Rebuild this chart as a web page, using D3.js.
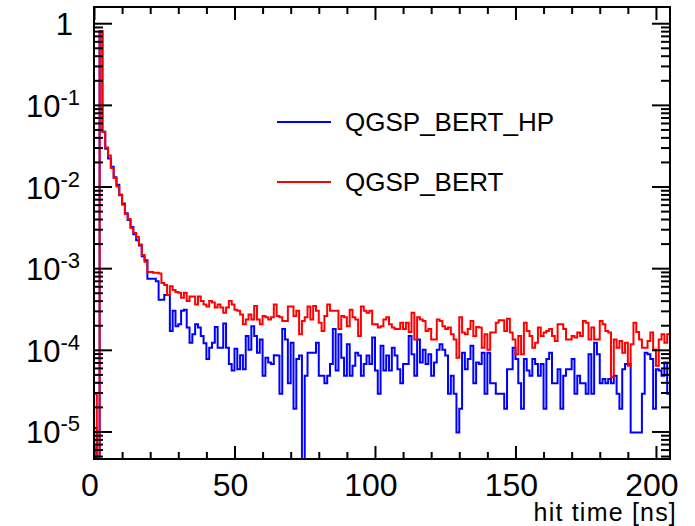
<!DOCTYPE html>
<html>
<head>
<meta charset="utf-8">
<script src="https://cdn.jsdelivr.net/npm/d3@7"></script>
<style>
  body { margin: 0; background: #fff; }
  svg { display: block; font-family: "Liberation Sans", Arial, sans-serif; }
</style>
</head>
<body>
<svg id="chart" width="695" height="526"></svg>
<script>
// hit time histograms, 1 ns bins from 0 to 205 ns
var binWidth = 1;
var seriesNames = ["QGSP_BERT_HP", "QGSP_BERT"];
var seriesColors = ["#0000ff", "#ff0000"];

var hpValues = [
  1.1e-5, 0, 0.8, 0.047, 0.029, 0.022, 0.0175, 0.013, 0.0105, 0.0078,
  0.0062, 0.0047, 0.0039, 0.0032, 0.0026, 0.0022, 0.0019, 1.4e-3, 1.25e-3, 7.4e-4,
  7.4e-4, 7.4e-4, 6.9e-4, 4.1e-4, 4.1e-4, 4.7e-4, 4.7e-4, 1.7e-4, 3.0e-4, 1.95e-4,
  2.05e-4, 3.0e-4, 3.1e-4, 1.87e-4, 1.22e-4, 1.55e-4, 2.05e-4, 1.87e-4, 1.48e-4, 1.2e-4,
  7.7e-5, 1.06e-4, 1.22e-4, 1.9e-4, 1.06e-4, 1.06e-4, 2.1e-4, 1.06e-4, 6.7e-5, 5.6e-5,
  1.03e-4, 5.8e-5, 8.6e-5, 5.8e-5, 1.48e-4, 1.0e-4, 1.95e-4, 1.48e-4, 9.2e-5, 1.34e-4,
  4.8e-5, 8.0e-5, 7.0e-5, 6.7e-5, 8.6e-5, 8.5e-5, 2.9e-5, 1.8e-4, 1.34e-4, 3.9e-5,
  1.22e-4, 1.9e-5, 7.7e-5, 8.5e-5, 0, 4.8e-5, 9.2e-5, 9.2e-5, 9.2e-5, 1.22e-4,
  4.8e-5, 4.8e-5, 3.9e-5, 4.8e-5, 6.7e-5, 1.8e-4, 5.6e-5, 1.55e-4, 8.0e-5, 4.8e-5,
  1.17e-4, 4.8e-5, 6.4e-5, 9.2e-5, 8.5e-5, 4.8e-5, 6.7e-5, 8.5e-5, 6.7e-5, 1.42e-4,
  5.6e-5, 2.9e-5, 1.12e-4, 5.6e-5, 8.5e-5, 5.6e-5, 1.06e-4, 8.5e-5, 5.8e-5, 3.9e-5,
  6.7e-5, 6.7e-5, 1.48e-4, 8.8e-5, 4.8e-5, 1.34e-4, 7.0e-5, 1.0e-4, 6.7e-5, 8.8e-5,
  4.8e-5, 7.0e-5, 1.0e-4, 1.17e-4, 1.0e-4, 8.5e-5, 2.9e-5, 4.8e-5, 2.9e-5, 9.7e-6,
  1.9e-5, 9.2e-5, 5.8e-5, 7.7e-5, 1.12e-4, 3.9e-5, 7.0e-5, 6.7e-5, 9.2e-5, 2.9e-5,
  9.2e-5, 3.9e-5, 3.9e-5, 2.9e-5, 2.9e-5, 2.9e-5, 1.9e-5, 5.8e-5, 5.8e-5, 1.06e-4,
  7.7e-5, 3.9e-5, 1.9e-5, 7.7e-5, 5.6e-5, 4.8e-5, 7.7e-5, 6.7e-5, 4.8e-5, 6.7e-5,
  1.9e-5, 7.7e-5, 9.2e-5, 3.9e-5, 3.9e-5, 5.8e-5, 1.9e-5, 4.8e-5, 5.8e-5, 5.8e-5,
  7.7e-5, 2.9e-5, 4.8e-5, 3.9e-5, 3.9e-5, 2.9e-5, 8.8e-5, 2.9e-5, 1.22e-4, 8.8e-5,
  3.9e-5, 4.4e-5, 3.9e-5, 4.4e-5, 3.9e-5, 4.8e-5, 2.9e-5, 1.9e-5, 5.8e-5, 6.7e-5,
  6.7e-5, 9.7e-6, 9.7e-6, 9.7e-6, 9.7e-6, 2.9e-5, 9.2e-5, 8.8e-5, 7.7e-5, 1.9e-5,
  5.8e-5, 5.6e-5, 4.8e-5, 7.0e-5, 2.9e-5
];

var bertValues = [
  2.9e-5, 0, 0.8, 0.047, 0.030, 0.024, 0.0169, 0.0127, 0.0100, 0.0080,
  0.0060, 0.0046, 0.0040, 0.0031, 0.0027, 0.0024, 0.00195, 1.45e-3, 1.2e-3, 9.0e-4,
  9.0e-4, 8.8e-4, 8.8e-4, 8.6e-4, 6.6e-4, 6.2e-4, 4.7e-4, 6.0e-4, 5.4e-4, 5.1e-4,
  5.0e-4, 4.35e-4, 5.0e-4, 3.95e-4, 4.5e-4, 4.5e-4, 3.6e-4, 4.5e-4, 3.95e-4, 3.6e-4,
  3.4e-4, 3.95e-4, 3.8e-4, 3.3e-4, 3.6e-4, 3.3e-4, 2.85e-4, 3.3e-4, 3.95e-4, 3.6e-4,
  3.1e-4, 3.0e-4, 2.7e-4, 2.05e-4, 2.35e-4, 2.7e-4, 2.35e-4, 3.45e-4, 2.35e-4, 2.05e-4,
  2.6e-4, 2.5e-4, 2.35e-4, 2.5e-4, 3.6e-4, 2.6e-4, 2.5e-4, 2.25e-4, 2.25e-4, 3.4e-4,
  3.4e-4, 2.6e-4, 3.0e-4, 1.55e-4, 2.25e-4, 2.5e-4, 3.4e-4, 2.35e-4, 3.45e-4, 3.0e-4,
  2.15e-4, 1.7e-4, 2.6e-4, 3.6e-4, 3.0e-4, 3.0e-4, 3.0e-4, 1.8e-4, 2.6e-4, 2.5e-4,
  1.95e-4, 3.1e-4, 2.5e-4, 2.35e-4, 1.48e-4, 3.4e-4, 3.0e-4, 2.85e-4, 3.0e-4, 2.05e-4,
  2.05e-4, 1.87e-4, 1.95e-4, 2.35e-4, 2.5e-4, 2.05e-4, 1.87e-4, 1.8e-4, 1.8e-4, 2.15e-4,
  1.8e-4, 2.15e-4, 1.65e-4, 2.85e-4, 1.34e-4, 2.5e-4, 2.35e-4, 2.25e-4, 1.7e-4, 1.8e-4,
  1.34e-4, 1.34e-4, 2.35e-4, 2.25e-4, 1.95e-4, 1.8e-4, 1.87e-4, 1.55e-4, 1.34e-4, 8.0e-5,
  2.5e-4, 1.63e-4, 1.55e-4, 1.8e-4, 2.25e-4, 1.48e-4, 1.9e-4, 1.87e-4, 1.06e-4, 1.55e-4,
  1.0e-4, 1.63e-4, 1.63e-4, 2.15e-4, 2.3e-4, 2.3e-4, 1.7e-4, 2.4e-4, 1.63e-4, 1.34e-4,
  8.8e-5, 1.48e-4, 8.8e-5, 2.15e-4, 1.7e-4, 1.48e-4, 1.06e-4, 1.22e-4, 1.87e-4, 1.48e-4,
  1.63e-4, 1.7e-4, 1.8e-4, 1.48e-4, 1.28e-4, 2.05e-4, 2.05e-4, 1.8e-4, 1.34e-4, 1.34e-4,
  1.48e-4, 1.42e-4, 1.63e-4, 1.48e-4, 2.25e-4, 2.15e-4, 1.34e-4, 1.87e-4, 1.34e-4, 1.34e-4,
  2.25e-4, 2.05e-4, 1.7e-4, 1.63e-4, 4.6e-5, 1.34e-4, 1.06e-4, 1.28e-4, 9.2e-5, 1.22e-4,
  6.4e-5, 1.17e-4, 2.15e-4, 1.65e-4, 1.34e-4, 1.06e-4, 1.06e-4, 1.28e-4, 1.63e-4, 1.0e-4,
  6.4e-5, 1.34e-4, 1.55e-4, 1.22e-4, 1.55e-4
];

var xTicksMajor = [0, 50, 100, 150, 200];
var yTicksMajor = [1, 1e-1, 1e-2, 1e-3, 1e-4, 1e-5];
var yLabelExp = [0, -1, -2, -3, -4, -5];

var W = 695, H = 526;
var margin = { top: 7, right: 25, bottom: 67, left: 94 };
var x0 = margin.left, x1 = W - margin.right, y0 = margin.top, y1 = H - margin.bottom;

var svg = d3.select("#chart");

var x = d3.scaleLinear().domain([0, 205]).range([x0, x1]);
var y = d3.scaleLog().domain([4.6e-6, 1.58]).range([y1, y0]);

// minor ticks
var xMinor = d3.range(0, 206, 10).filter(function (d) { return d % 50 !== 0; });
var yMinor = [];
[1e-6, 1e-5, 1e-4, 1e-3, 1e-2, 1e-1, 1].forEach(function (dec) {
  for (var k = 2; k <= 9; k++) {
    var v = dec * k;
    if (v > y.domain()[0] && v < y.domain()[1]) yMinor.push(v);
  }
});

function tickAxis(axis, tx, ty) {
  var g = svg.append("g").attr("transform", "translate(" + tx + "," + ty + ")").call(axis);
  g.select(".domain").remove();
  g.selectAll("line").attr("stroke", "#000").attr("stroke-width", 2);
  return g;
}

// histograms (clipped to frame)
svg.append("clipPath").attr("id", "frameclip")
  .append("rect").attr("x", x0).attr("y", y0).attr("width", x1 - x0).attr("height", y1 - y0);

function stepPoints(vals) {
  var pts = [];
  vals.forEach(function (v, i) {
    var yy = v > y.domain()[0] ? y(v) : y1 + 2;
    pts.push([x(i * binWidth), yy]);
    pts.push([x((i + 1) * binWidth), yy]);
  });
  return pts;
}

var line = d3.line();
var plot = svg.append("g").attr("clip-path", "url(#frameclip)");
[hpValues, bertValues].forEach(function (vals, i) {
  plot.append("path")
    .attr("d", line(stepPoints(vals)))
    .attr("fill", "none")
    .attr("stroke", seriesColors[i])
    .attr("stroke-width", 2)
    .attr("stroke-linejoin", "miter");
});

// ticks on all four sides
tickAxis(d3.axisTop(x).tickValues(xTicksMajor).tickSize(13).tickFormat(""), 0, y1);
tickAxis(d3.axisTop(x).tickValues(xMinor).tickSize(7).tickFormat(""), 0, y1);
tickAxis(d3.axisBottom(x).tickValues(xTicksMajor).tickSize(13).tickFormat(""), 0, y0);
tickAxis(d3.axisBottom(x).tickValues(xMinor).tickSize(7).tickFormat(""), 0, y0);
tickAxis(d3.axisRight(y).tickValues(yTicksMajor).tickSize(18).tickFormat(""), x0, 0);
tickAxis(d3.axisRight(y).tickValues(yMinor).tickSize(9).tickFormat(""), x0, 0);
tickAxis(d3.axisLeft(y).tickValues(yTicksMajor).tickSize(18).tickFormat(""), x1, 0);
tickAxis(d3.axisLeft(y).tickValues(yMinor).tickSize(9).tickFormat(""), x1, 0);

// frame
svg.append("rect")
  .attr("x", x0).attr("y", y0).attr("width", x1 - x0).attr("height", y1 - y0)
  .attr("fill", "none").attr("stroke", "#000").attr("stroke-width", 2);

// x labels
svg.selectAll(".xlab").data(xTicksMajor).join("text")
  .attr("class", "xlab")
  .attr("x", function (d) { return x(d) - 4; })
  .attr("y", 496)
  .attr("text-anchor", "middle")
  .attr("font-size", 32)
  .text(function (d) { return d; });

// y labels with superscript exponents
var ylab = svg.selectAll(".ylab").data(yTicksMajor).join("text")
  .attr("class", "ylab")
  .attr("x", 80)
  .attr("y", function (d) { return y(d) + 12; })
  .attr("text-anchor", "end")
  .attr("font-size", 31);
ylab.each(function (d, i) {
  var t = d3.select(this);
  if (yLabelExp[i] === 0) {
    t.attr("x", 73).text("1");
  } else {
    t.append("tspan").text("10");
    t.append("tspan").attr("font-size", 22).attr("dy", -12).text(yLabelExp[i]);
  }
});

// axis title
svg.append("text")
  .attr("x", 677).attr("y", 521)
  .attr("text-anchor", "end")
  .attr("font-size", 25)
  .attr("letter-spacing", 1.2)
  .text("hit time [ns]");

// legend
var legendY = [122, 182];
seriesNames.forEach(function (name, i) {
  svg.append("line")
    .attr("x1", 277).attr("x2", 331)
    .attr("y1", legendY[i]).attr("y2", legendY[i])
    .attr("stroke", seriesColors[i]).attr("stroke-width", 2);
  svg.append("text")
    .attr("x", 345).attr("y", legendY[i] + 9)
    .attr("font-size", 26)
    .text(name);
});
</script>
</body>
</html>
